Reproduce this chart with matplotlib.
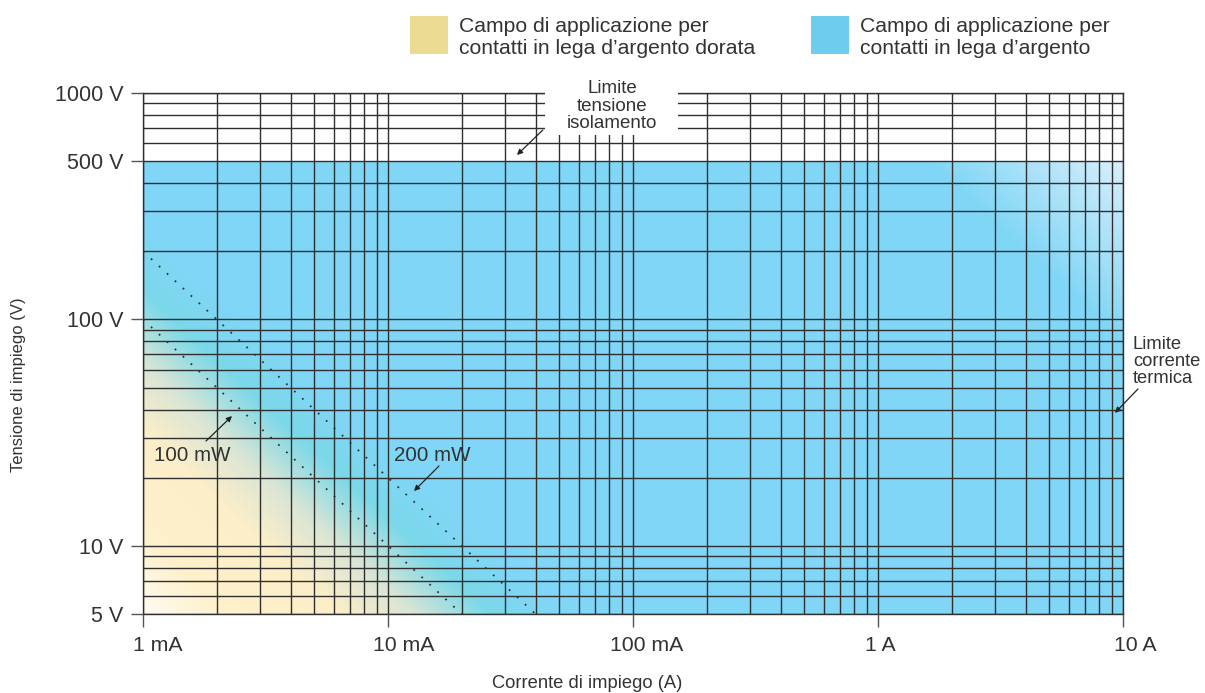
import matplotlib
matplotlib.use("Agg")
import matplotlib.pyplot as plt
import numpy as np
from matplotlib.patches import Rectangle
from matplotlib.transforms import ScaledTranslation

plt.rcParams['font.family'] = ['Liberation Sans', 'DejaVu Sans']

# --- data -------------------------------------------------------------
i_min, i_max = 1e-3, 10.0          # A  (limite corrente termica = 10 A)
v_min, v_max = 5.0, 1000.0         # V
v_insulation = 500.0               # limite tensione isolamento

x_ticks = [1e-3, 1e-2, 1e-1, 1, 10]
x_labels = ['1 mA', '10 mA', '100 mA', '1 A', '10 A']
y_ticks = [5, 10, 100, 500, 1000]
y_labels = ['5 V', '10 V', '100 V', '500 V', '1000 V']

powers = [0.1, 0.2]                # W
power_labels = ['100 mW', '200 mW']

legend_labels = ['Campo di applicazione per\ncontatti in lega d\u2019argento dorata',
                 'Campo di applicazione per\ncontatti in lega d\u2019argento']

# --- colours ----------------------------------------------------------
txt = '#333333'
gridc = '#303030'
col_gold = '#ecdc93'
col_blue_sw = '#6ecdee'

# gradient stops along log10(power in W)
p_stops = [-2.3, -1.95, -1.5, -1.2, -0.88, -0.6, 2.9, 3.75]
c_stops = np.array([
    [255, 251, 242],
    [253, 240, 203],
    [252, 238, 200],
    [218, 229, 212],
    [122, 216, 233],
    [128, 214, 246],
    [128, 214, 246],
    [222, 240, 251],
]) / 255.0

fig = plt.figure(figsize=[12.05, 6.93], dpi=100)
ax = fig.add_axes([143/1205, 1-614/693, 980/1205, 521/693])
ax.set_xscale('log')
ax.set_yscale('log')
ax.set_xlim(i_min, i_max)
ax.set_ylim(v_min, v_max)

# coloured field up to insulation limit
xe = np.logspace(np.log10(i_min), np.log10(i_max), 500)
ye = np.logspace(np.log10(v_min), np.log10(v_insulation), 300)
xc = np.sqrt(xe[:-1] * xe[1:])
yc = np.sqrt(ye[:-1] * ye[1:])
P = np.log10(np.outer(yc, xc))
rgb = np.dstack([np.interp(P, p_stops, c_stops[:, k]) for k in range(3)])
ax.pcolormesh(xe, ye, rgb, shading='flat', zorder=0.5, rasterized=True)

# grid
minor_x = [m * 10.0**e for e in range(-3, 1) for m in range(2, 10)]
minor_y = [m * 10.0**e for e in range(0, 3) for m in range(2, 10)]
minor_y = [v for v in minor_y if 5 < v < 1000 and v != 500]
ax.set_xticks(x_ticks)
ax.set_xticks(minor_x, minor=True)
ax.set_yticks(y_ticks)
ax.set_yticks(minor_y, minor=True)
ax.set_xticklabels(x_labels, fontsize=15.3, color=txt)
ax.set_yticklabels(y_labels, fontsize=15.5, color=txt)
ax.grid(which='both', color=gridc, linewidth=1.0)
ax.set_axisbelow(False)
ax.tick_params(which='minor', length=0)
ax.tick_params(which='major', length=9, width=1.0, color='#555555')
ax.tick_params(axis='y', pad=5)
ax.tick_params(axis='x', pad=7)
for s in ax.spines.values():
    s.set_color(gridc)
    s.set_linewidth(1.0)

# shift x labels so the number sits on the tick
for lab, dx in zip(ax.get_xticklabels(), [15, 16, 14, 2, 12]):
    lab.set_transform(lab.get_transform() + ScaledTranslation(dx/100, 0, fig.dpi_scale_trans))

# iso-power lines
for pw in powers:
    ii = np.array([i_min, pw / v_min])
    ax.plot(ii, pw / ii, color='#333333', linestyle=(0, (1, 5)), linewidth=1.3, zorder=3)

# labels for the power lines
arrow = dict(arrowstyle='-|>', color='#222222', lw=0.9, mutation_scale=8, shrinkA=0, shrinkB=0)
ax.text(0.0112, 0.305, power_labels[0], transform=ax.transAxes, fontsize=14.8, color=txt,
        ha='left', va='center', zorder=5)
ax.annotate('', xy=(0.0908, 0.380), xytext=(0.0643, 0.332), xycoords='axes fraction',
            arrowprops=arrow, zorder=5)
ax.text(0.256, 0.305, power_labels[1], transform=ax.transAxes, fontsize=14.8, color=txt,
        ha='left', va='center', zorder=5)
ax.annotate('', xy=(0.2765, 0.236), xytext=(0.302, 0.284), xycoords='axes fraction',
            arrowprops=arrow, zorder=5)

# insulation limit label (white box cuts the grid)
ax.add_patch(Rectangle((0.410, 0.919), 0.136, 0.12, transform=ax.transAxes,
                       facecolor='white', edgecolor='none', clip_on=False, zorder=4))
ax.text(0.4786, 0.975, 'Limite\ntensione\nisolamento', transform=ax.transAxes,
        fontsize=13.5, color=txt, ha='center', va='center', linespacing=1.05, zorder=5)
ax.annotate('', xy=(0.3816, 0.881), xytext=(0.408, 0.929), xycoords='axes fraction',
            arrowprops=arrow, zorder=5, annotation_clip=False)

# thermal current limit label
ax.text(1.0102, 0.4837, 'Limite\ncorrente\ntermica', transform=ax.transAxes,
        fontsize=13.2, color=txt, ha='left', va='center', linespacing=1.0, zorder=5)
ax.annotate('', xy=(0.9918, 0.386), xytext=(1.0153, 0.432), xycoords='axes fraction',
            arrowprops=arrow, zorder=5, annotation_clip=False)

# axis titles
fig.text(19/1205, 1-385/693, 'Tensione di impiego (V)', rotation=90, fontsize=12,
         color=txt, ha='center', va='center')
fig.text(587/1205, 1-683/693, 'Corrente di impiego (A)', fontsize=13.2,
         color=txt, ha='center', va='center')

# legend
for x0, col, lab in zip([410, 811], [col_gold, col_blue_sw], legend_labels):
    fig.patches.append(Rectangle((x0/1205, 1-54/693), 38/1205, 38/693,
                                 transform=fig.transFigure, facecolor=col, edgecolor='none'))
    fig.text((x0 + 49)/1205, 1-37.5/693, lab, fontsize=15.2, color=txt,
             ha='left', va='center', linespacing=1.25)

plt.savefig('out.png', dpi=100)
